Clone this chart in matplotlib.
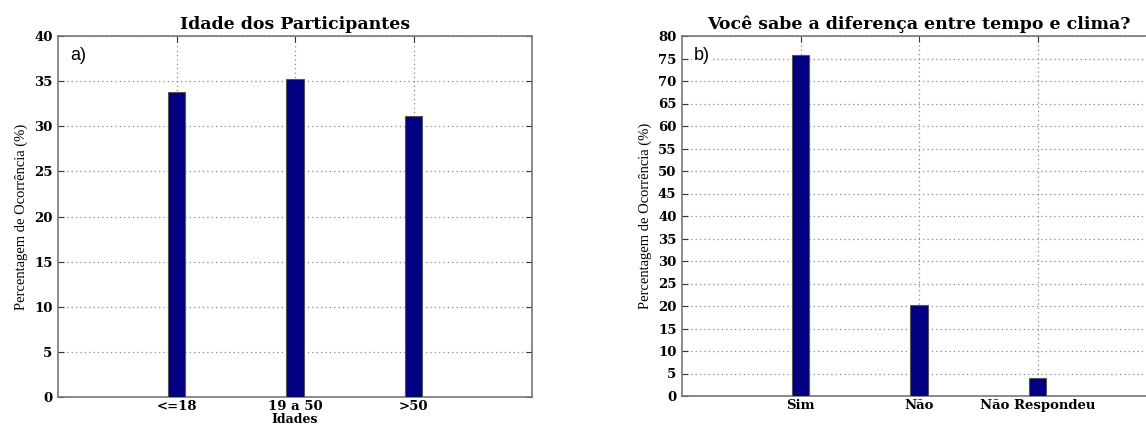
import matplotlib
matplotlib.use("Agg")
import matplotlib.pyplot as plt
import numpy as np

# data
idade_labels = ["<=18", "19 a 50", ">50"]
idade_values = [33.8, 35.2, 31.1]

resposta_labels = ["Sim", "Não", "Não Respondeu"]
resposta_values = [75.7, 20.3, 4.0]

bar_color = "#000080"
wide_serif = ["DejaVu Serif"]
narrow_serif = ["Liberation Serif", "DejaVu Serif"]

fig = plt.figure(figsize=(11.46, 4.26), dpi=100, facecolor="white")

W, H = 1146.0, 426.0
ax1 = fig.add_axes([58 / W, (H - 397) / H, 474 / W, 361 / H])
ax2 = fig.add_axes([682 / W, (H - 396) / H, 474 / W, 360 / H])


def style_axis(ax, labels, values, ymax, title, tag, xlabel=None):
    x = np.arange(1, len(labels) + 1)
    ax.bar(x, values, width=0.15, color=bar_color, edgecolor="#555555",
           linewidth=0.8, zorder=3)
    ax.set_xlim(0, 4)
    ax.set_ylim(0, ymax)
    ax.set_xticks(x)
    ax.set_xticklabels(labels, fontfamily=wide_serif, fontweight="bold", fontsize=9.5)
    ax.set_yticks(np.arange(0, ymax + 1, 5))
    ax.set_yticklabels([str(v) for v in range(0, ymax + 1, 5)],
                       fontfamily=wide_serif, fontweight="bold", fontsize=9.5)
    ax.tick_params(direction="in", length=4, width=0.8, top=True, right=True,
                   pad=4, colors="#333333", labelcolor="black")
    ax.tick_params(axis="x", pad=2)
    ax.grid(True, linestyle=(0, (1, 2.5)), color="#888888", linewidth=0.9, zorder=0)
    for s in ax.spines.values():
        s.set_color("#777777")
        s.set_linewidth(1.2)
    ax.set_title(title, fontfamily=wide_serif, fontweight="bold", fontsize=12.5, pad=5)
    ax.set_ylabel("Percentagem de Ocorrência (%)", fontfamily=narrow_serif,
                  fontsize=10.5, labelpad=4)
    if xlabel:
        ax.set_xlabel(xlabel, fontfamily=wide_serif, fontweight="bold", fontsize=9)
        ax.xaxis.set_label_coords(0.5, -16.0 / 361)
    ax.text(0.025, 0.97, tag, transform=ax.transAxes, ha="left", va="top",
            fontfamily=["Liberation Sans", "DejaVu Sans"], fontsize=13, zorder=4,
            bbox=dict(facecolor="white", edgecolor="none", pad=1))


style_axis(ax1, idade_labels, idade_values, 40, "Idade dos Participantes", "a)",
           xlabel="Idades")
style_axis(ax2, resposta_labels, resposta_values, 80,
           "Você sabe a diferença entre tempo e clima?", "b)")

fig.savefig("out.png", dpi=100, facecolor="white")
